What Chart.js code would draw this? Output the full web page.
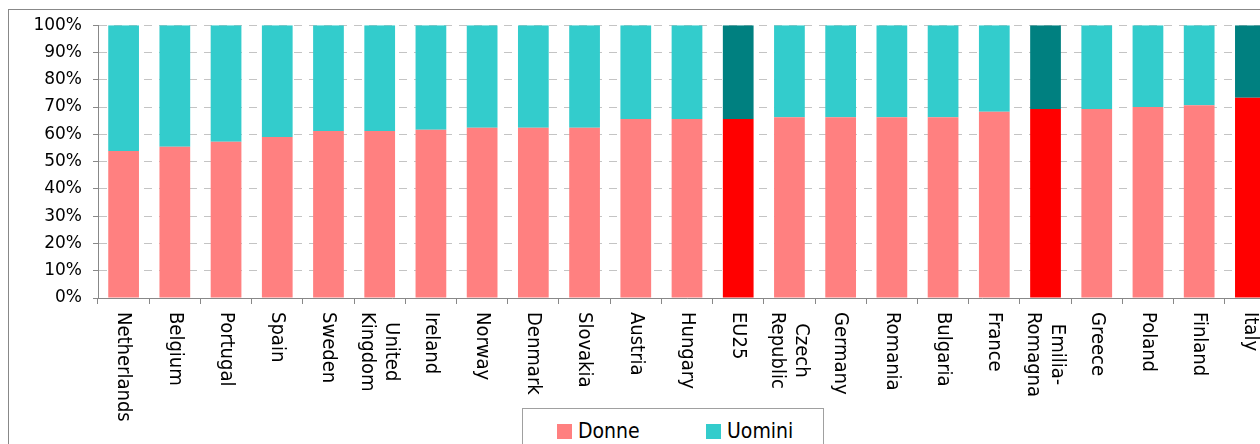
<!DOCTYPE html>
<html>
<head>
<meta charset="utf-8">
<script src="https://cdn.jsdelivr.net/npm/chart.js@4/dist/chart.umd.min.js"></script>
<style>
  html, body { margin: 0; padding: 0; background: #fff; overflow: hidden; }
  body { width: 1260px; height: 444px; position: relative; }
  #frame { position: absolute; left: 8px; top: 9px; width: 1300px; height: 460px; border: 1px solid #888; }
  #wrap { position: absolute; left: 9px; top: 4px; width: 1275px; height: 440px; }
  #legend { position: absolute; left: 522px; top: 408px; width: 300px; height: 60px;
            border: 1px solid #a0a0a0; background: #fff;
            font: 21px "DejaVu Sans Condensed", "DejaVu Sans", sans-serif; color: #000; }
  #legend .item { position: absolute; top: 9px; line-height: 26px; white-space: nowrap; }
  #legend .box { display: inline-block; width: 15px; height: 15px; margin-right: 6px; vertical-align: -1px; }
</style>
</head>
<body>
<div id="frame"></div>
<div id="wrap"><canvas id="chart"></canvas></div>
<div id="legend"></div>
<script>
const categories = [
  'Netherlands', 'Belgium', 'Portugal', 'Spain', 'Sweden', ['United', 'Kingdom'],
  'Ireland', 'Norway', 'Denmark', 'Slovakia', 'Austria', 'Hungary', 'EU25',
  ['Czech', 'Republic'], 'Germany', 'Romania', 'Bulgaria', 'France',
  ['Emilia-', 'Romagna'], 'Greece', 'Poland', 'Finland', 'Italy'
];
const donne = [53.9, 55.4, 57.3, 59.0, 61.2, 61.2, 61.7, 62.4, 62.4, 62.4, 65.6, 65.6,
               65.6, 66.3, 66.3, 66.3, 66.3, 68.3, 69.3, 69.3, 70.0, 70.7, 73.4];
const uomini = [46.1, 44.6, 42.7, 41.0, 38.8, 38.8, 38.3, 37.6, 37.6, 37.6, 34.4, 34.4,
                34.4, 33.7, 33.7, 33.7, 33.7, 31.7, 30.7, 30.7, 30.0, 29.3, 26.6];
const highlighted = ['EU25', 'Emilia-Romagna', 'Italy'];
const yTicks = [0, 10, 20, 30, 40, 50, 60, 70, 80, 90, 100];

const labelFont = '"DejaVu Sans Condensed", "DejaVu Sans", sans-serif';

const isHighlighted = (lbl) => highlighted.includes(Array.isArray(lbl) ? lbl.join('') : lbl);
const colorsFor = (normal, strong) => categories.map(c => isHighlighted(c) ? strong : normal);

// category labels: rotated clockwise, reading top to bottom, starting under the axis
const xLabels = {
  id: 'xLabels',
  afterDraw(chart) {
    const {ctx} = chart;
    const x = chart.scales.x;
    const lineH = 24;
    ctx.save();
    ctx.font = '20px ' + labelFont;
    ctx.fillStyle = '#000';
    ctx.textAlign = 'center';
    ctx.textBaseline = 'middle';
    chart.data.labels.forEach((lbl, i) => {
      const lines = Array.isArray(lbl) ? lbl : [lbl];
      const w = Math.max(...lines.map(l => ctx.measureText(l).width));
      ctx.save();
      ctx.translate(x.getPixelForTick(i), x.top + 14);
      ctx.rotate(Math.PI / 2);
      lines.forEach((l, j) => ctx.fillText(l, w / 2, (j - (lines.length - 1) / 2) * lineH));
      ctx.restore();
    });
    ctx.restore();
  }
};

const chart = new Chart(document.getElementById('chart'), {
  type: 'bar',
  data: {
    labels: categories,
    datasets: [{
      label: 'Donne',
      data: donne,
      backgroundColor: colorsFor('#FF8080', '#FF0000'),
      legendColor: '#FF8080'
    }, {
      label: 'Uomini',
      data: uomini,
      backgroundColor: colorsFor('#33CCCC', '#008080'),
      legendColor: '#33CCCC'
    }]
  },
  options: {
    responsive: true,
    maintainAspectRatio: false,
    animation: false,
    datasets: { bar: { barPercentage: 0.6, categoryPercentage: 1 } },
    layout: { padding: { top: 0, right: 8, left: 0, bottom: 0 } },
    plugins: { legend: { display: false }, tooltip: { enabled: false } },
    scales: {
      x: {
        stacked: true,
        grid: { drawOnChartArea: false, drawTicks: true, tickLength: 6, color: '#888', offset: true },
        border: { color: '#888', width: 1 },
        ticks: { display: false },
        afterFit: (scale) => { scale.height = 146; }
      },
      y: {
        stacked: true,
        min: 0,
        max: 100,
        afterBuildTicks: (scale) => { scale.ticks = yTicks.map(v => ({value: v})); },
        grid: { color: '#c4c4c4', tickColor: '#888', tickLength: 5, tickBorderDash: [] },
        border: { color: '#888', width: 1, dash: [8, 7] },
        ticks: {
          padding: 11,
          color: '#000',
          font: { family: 'DejaVu Sans', size: 17 },
          callback: (v) => v + '%'
        },
        afterFit: (scale) => { scale.width = 89; }
      }
    }
  },
  plugins: [xLabels]
});

// legend box below the chart
const legend = document.getElementById('legend');
const legendLeft = [34, 183];
chart.data.datasets.forEach((ds, i) => {
  const item = document.createElement('div');
  item.className = 'item';
  item.style.left = legendLeft[i] + 'px';
  const box = document.createElement('span');
  box.className = 'box';
  box.style.background = ds.legendColor;
  item.appendChild(box);
  item.appendChild(document.createTextNode(ds.label));
  legend.appendChild(item);
});
</script>
</body>
</html>
